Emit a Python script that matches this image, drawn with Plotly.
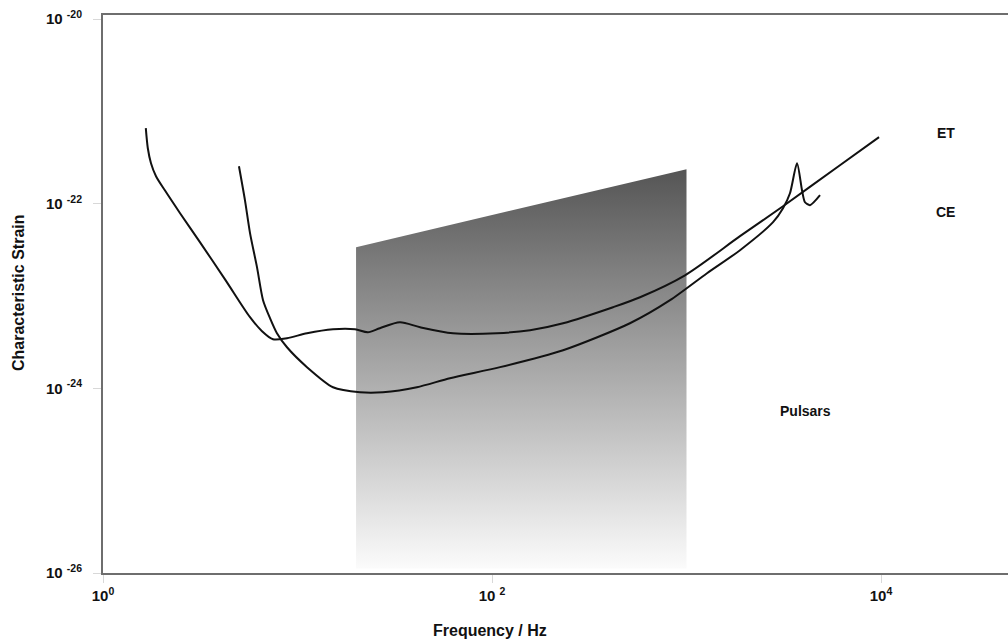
import plotly.graph_objects as go

# ET sensitivity curve (frequency in Hz, characteristic strain)
et_freq = [1.66, 1.70, 1.765, 1.873, 2.08, 2.49, 3.15, 4.24, 5.70, 6.57, 7.48, 8.83,
           11.19, 15.22, 19.75, 23.0, 26.5, 33.6, 42.7, 63.0, 106, 157, 232, 419, 577,
           982, 1884, 3135, 6150, 9772]
et_strain = [6.6e-22, 4.0e-22, 2.75e-22, 1.99e-22, 1.40e-22, 7.91e-23, 3.84e-23, 1.52e-23,
             5.91e-24, 4.17e-24, 3.41e-24, 3.50e-24, 3.96e-24, 4.38e-24, 4.38e-24,
             4.06e-24, 4.49e-24, 5.21e-24, 4.60e-24, 3.96e-24, 3.96e-24, 4.27e-24,
             5.08e-24, 7.58e-24, 9.72e-24, 1.68e-23, 4.46e-23, 9.42e-23, 2.62e-22,
             5.27e-22]

# CE sensitivity curve
ce_freq = [5.0, 5.37, 5.70, 6.19, 6.65, 7.22, 7.84, 8.83, 11.19, 15.22, 20.96, 27.5,
           41.1, 60.8, 110, 232, 512, 823, 1275, 1884, 2786, 3135, 3404, 3700, 3926,
           4066, 4315, 4858]
ce_strain = [2.55e-22, 1.09e-22, 4.81e-23, 2.06e-23, 9.03e-24, 5.77e-24, 3.96e-24,
             2.79e-24, 1.70e-24, 1.03e-24, 9.10e-25, 9.10e-25, 1.03e-24, 1.29e-24,
             1.70e-24, 2.59e-24, 5.08e-24, 9.03e-24, 1.77e-23, 3.14e-23, 6.32e-23,
             8.95e-23, 1.30e-22, 2.75e-22, 1.40e-22, 1.04e-22, 9.66e-23, 1.24e-22]

# Pulsar band (shaded region)
pulsar_freq = [20, 20, 1000, 1000, 20]
pulsar_strain = [1.12e-26, 3.39e-23, 2.37e-22, 1.12e-26, 1.12e-26]

x_tickvals = [1, 100, 10000]
x_ticktext = ["10<sup>0</sup>", "10 <sup>2</sup>", "10<sup>4</sup>"]
y_tickvals = [1e-20, 1e-22, 1e-24, 1e-26]
y_ticktext = ["10 <sup>-20</sup>", "10 <sup>-22</sup>", "10 <sup>-24</sup>", "10 <sup>-26</sup>"]

FONT = "Liberation Sans, Arial, sans-serif"

fig = go.Figure()

fig.add_trace(go.Scatter(
    x=pulsar_freq, y=pulsar_strain, mode="lines", fill="toself",
    line=dict(width=0, color="rgba(0,0,0,0)"),
    fillgradient=dict(type="vertical",
                      colorscale=[[0, "#fbfbfb"], [1, "#555555"]]),
    hoverinfo="skip", showlegend=False))

fig.add_trace(go.Scatter(
    x=et_freq, y=et_strain, mode="lines", name="ET",
    line=dict(color="#111111", width=2, shape="spline", smoothing=0.8),
    showlegend=False))

fig.add_trace(go.Scatter(
    x=ce_freq, y=ce_strain, mode="lines", name="CE",
    line=dict(color="#111111", width=2, shape="spline", smoothing=0.7),
    showlegend=False))

tickfont = dict(family=FONT, size=15, color="#111111", weight="bold")

W, H = 1008, 639
ML, MR, MT, MB = 103, 0, 15, 66
pw, ph = W - ML - MR, H - MT - MB
DEC_X = 194.5   # px per decade (x)
DEC_Y = 92.3    # px per decade (y)

fig.update_xaxes(
    type="log", range=[0, pw / DEC_X], tickmode="array",
    tickvals=x_tickvals, ticktext=x_ticktext,
    ticks="outside", ticklen=8, tickcolor="#d8d8d8", tickwidth=1,
    showline=True, linecolor="#6e6e6e", linewidth=2, mirror=True,
    showgrid=False, zeroline=False, tickfont=tickfont)

fig.update_yaxes(
    type="log", range=[-26, -26 + ph / DEC_Y], tickmode="array",
    tickvals=y_tickvals, ticktext=y_ticktext,
    ticks="outside", ticklen=8, tickcolor="#d8d8d8", tickwidth=1,
    ticklabelstandoff=8,
    showline=True, linecolor="#6e6e6e", linewidth=2, mirror=False,
    showgrid=False, zeroline=False, tickfont=tickfont)

annfont = dict(family=FONT, size=14, color="#111111", weight="bold")
titlefont = dict(family=FONT, size=16, color="#111111", weight="bold")
annotations = [
    dict(x=4.334, y=-21.235, xref="x", yref="y", text="ET", showarrow=False, font=annfont),
    dict(x=4.334, y=-22.09, xref="x", yref="y", text="CE", showarrow=False, font=annfont),
    dict(x=3.61, y=-24.25, xref="x", yref="y", text="Pulsars", showarrow=False, font=annfont),
    dict(x=(490 - ML) / pw, y=(H - MB - 630) / ph, xref="paper", yref="paper",
         xanchor="center", yanchor="middle",
         text="Frequency / Hz", showarrow=False, font=titlefont),
    dict(x=(18 - ML) / pw, y=(H - MB - 293) / ph, xref="paper", yref="paper",
         xanchor="center", yanchor="middle",
         text="Characteristic Strain", textangle=-90, showarrow=False, font=titlefont),
]

fig.update_layout(
    width=W, height=H,
    margin=dict(l=ML, r=MR, t=MT, b=MB),
    paper_bgcolor="white", plot_bgcolor="white",
    annotations=annotations, showlegend=False)

fig.write_html("out.html",
               config={"displayModeBar": False},
               post_script="document.body.style.margin='0px';"
                           "document.body.style.overflow='hidden';")
